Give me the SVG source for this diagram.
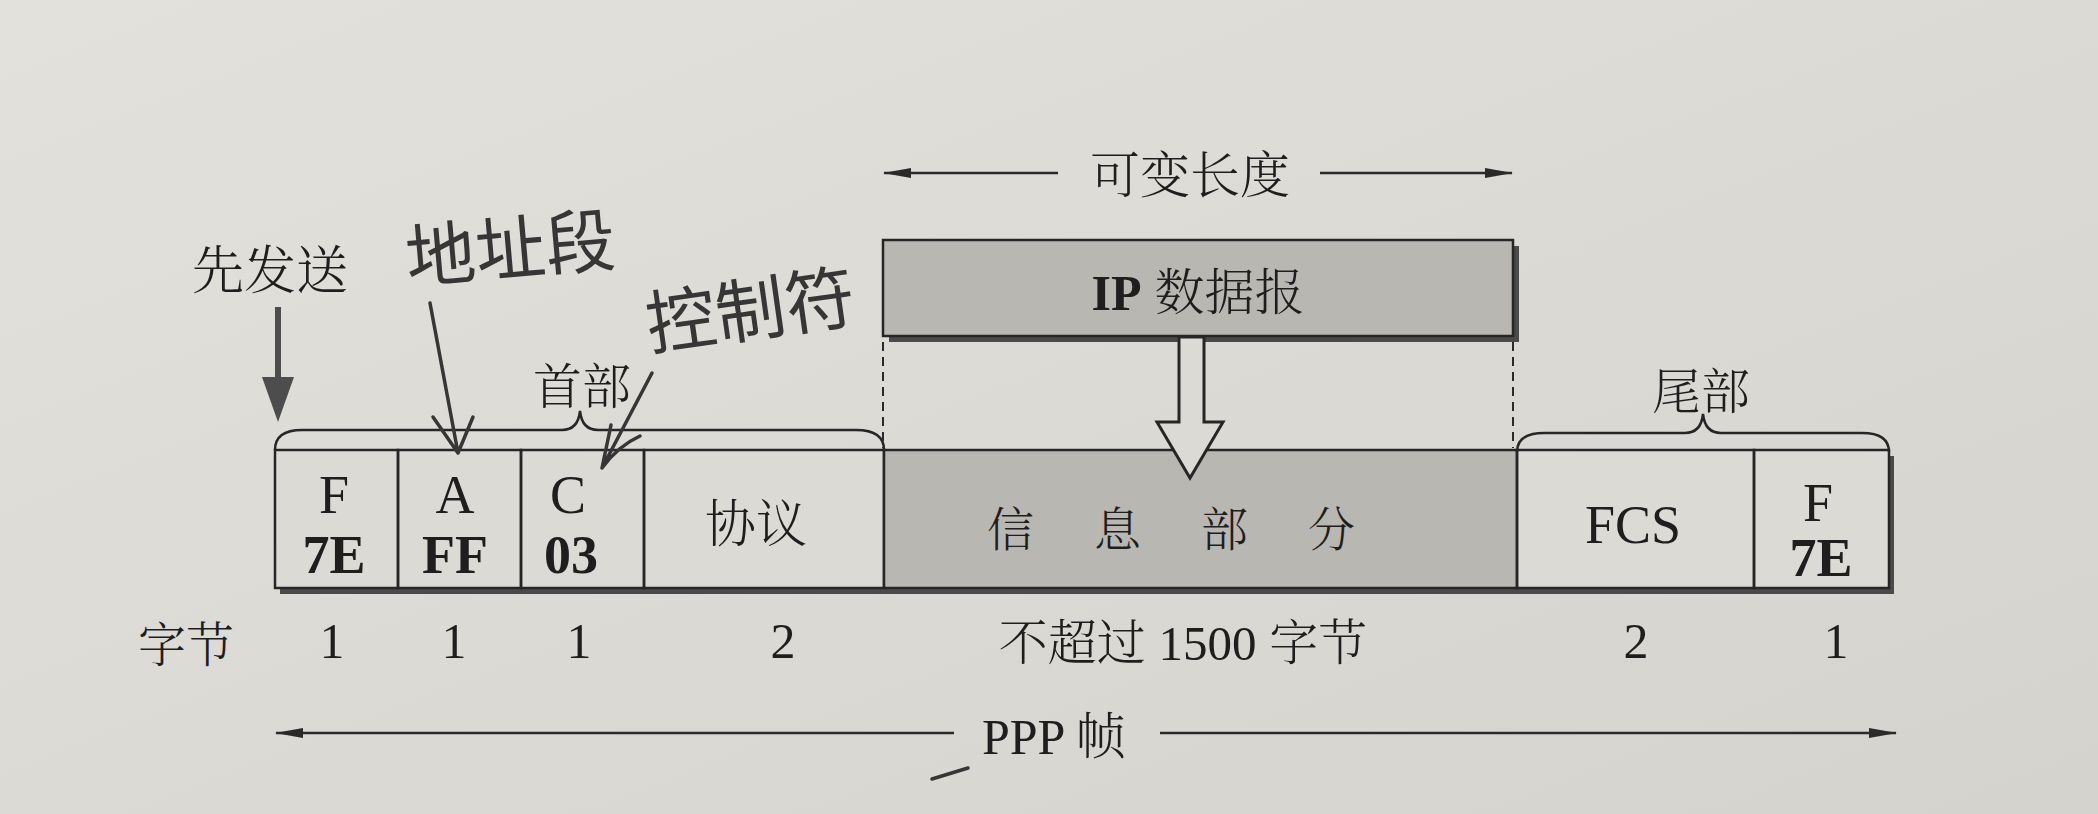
<svg xmlns="http://www.w3.org/2000/svg" width="2098" height="814" viewBox="0 0 2098 814">
<defs>
<linearGradient id="bg" x1="0" y1="0" x2="1" y2="1">
<stop offset="0" stop-color="#e3e1dc"/>
<stop offset="1" stop-color="#d5d3ce"/>
</linearGradient>
<marker id="ah" viewBox="0 0 28 12" refX="27" refY="6" markerWidth="28" markerHeight="12" markerUnits="userSpaceOnUse" orient="auto">
<path d="M0,1 L28,6 L0,11 Z" fill="#2a2a2a"/>
</marker>
<style>
.cell{fill:none;stroke:#262626;stroke-width:2.5}
.shade{fill:#b9b7b2;stroke:#262626;stroke-width:2.5}
.lat{font-family:"Liberation Serif","Times New Roman",serif;fill:#1e1e1e;text-anchor:middle}
.b{font-weight:bold}
.cjk{font-family:"Noto Serif CJK SC","Noto Sans CJK SC",sans-serif;fill:#1e1e1e;text-anchor:middle;font-weight:300}
.hand{font-family:"Noto Sans CJK SC",sans-serif;fill:#363636;font-weight:400}
.hl{fill:none;stroke:#363636;stroke-width:3.5;stroke-linecap:round;stroke-linejoin:round}
.line{fill:none;stroke:#2a2a2a;stroke-width:2.5}
.brace{fill:none;stroke:#262626;stroke-width:2.5}
.dash{fill:none;stroke:#2a2a2a;stroke-width:2;stroke-dasharray:9,6}
</style>
</defs>
<rect x="0" y="0" width="2098" height="814" fill="url(#bg)"/>

<!-- frame shadow -->
<rect x="280" y="456" width="1614" height="138" fill="#4a4a4a"/>
<rect x="275" y="450" width="1614" height="138" fill="#dcdad5"/>

<g id="cell-F1">
<rect class="cell" x="275" y="450" width="123" height="138"/>
<text class="lat" x="334" y="513" font-size="54">F</text>
<text class="lat b" x="334" y="573" font-size="54">7E</text>
</g>
<g id="cell-A">
<rect class="cell" x="398" y="450" width="123" height="138"/>
<text class="lat" x="455" y="513" font-size="54">A</text>
<text class="lat b" x="455" y="573" font-size="54">FF</text>
</g>
<g id="cell-C">
<rect class="cell" x="521" y="450" width="123" height="138"/>
<text class="lat" x="568" y="513" font-size="54">C</text>
<text class="lat b" x="571" y="573" font-size="54">03</text>
</g>
<g id="cell-protocol">
<rect class="cell" x="644" y="450" width="240" height="138"/>
<text class="cjk" x="756" y="542" font-size="51">协议</text>
</g>
<g id="cell-info">
<rect class="shade" x="884" y="450" width="633" height="138"/>
<text class="cjk" x="987" y="546" font-size="47" letter-spacing="60" style="text-anchor:start">信息部分</text>
</g>
<g id="cell-FCS">
<rect class="cell" x="1517" y="450" width="237" height="138"/>
<text class="lat" x="1633" y="543" font-size="54">FCS</text>
</g>
<g id="cell-F2">
<rect class="cell" x="1754" y="450" width="135" height="138"/>
<text class="lat" x="1818" y="521" font-size="54">F</text>
<text class="lat b" x="1821" y="576" font-size="54">7E</text>
</g>

<g id="ip-datagram">
<rect x="889" y="246" width="630" height="96" fill="#4a4a4a"/>
<rect class="shade" x="883" y="240" width="630" height="96"/>
<text class="lat" x="1198" y="310" font-size="50"><tspan class="b">IP</tspan><tspan font-family="Noto Serif CJK SC, Noto Sans CJK SC, sans-serif" font-weight="300"> 数据报</tspan></text>
</g>

<g id="variable-length">
<text class="cjk" x="1190" y="193" font-size="50">可变长度</text>
</g>

<g id="header-brace">
<path class="brace" d="M275,450 Q275,430 302,430 L562,430 Q578,430 580,411 Q582,430 598,430 L856,430 Q884,430 884,450"/>
<text class="cjk" x="582" y="404" font-size="49">首部</text>
</g>
<g id="tail-brace">
<path class="brace" d="M1517,452 Q1517,433 1544,433 L1685,433 Q1701,433 1703,414 Q1705,433 1721,433 L1862,433 Q1889,433 1889,452"/>
<text class="cjk" x="1701" y="409" font-size="49">尾部</text>
</g>

<g id="send-first">
<text class="cjk" x="270" y="289" font-size="52">先发送</text>
</g>

<g id="bytes-row">
<text class="cjk" x="186" y="662" font-size="48">字节</text>
<text class="lat" x="332" y="658" font-size="50">1</text>
<text class="lat" x="454" y="658" font-size="50">1</text>
<text class="lat" x="579" y="658" font-size="50">1</text>
<text class="lat" x="783" y="658" font-size="50">2</text>
<text class="cjk" x="1183" y="660" font-size="49">不超过 <tspan font-family="Liberation Serif, serif" font-weight="normal">1500</tspan> 字节</text>
<text class="lat" x="1636" y="658" font-size="50">2</text>
<text class="lat" x="1836" y="658" font-size="50">1</text>
</g>

<g id="ppp-frame">
<text class="lat" x="1054" y="754" font-size="50">PPP <tspan font-family="Noto Serif CJK SC, Noto Sans CJK SC, sans-serif" font-weight="300">帧</tspan></text>
</g>

<g id="note-address">
<text class="hand" x="408" y="283" font-size="70" transform="rotate(-5 408 283)">地址段</text>
</g>
<g id="note-control">
<text class="hand" x="650" y="350" font-size="70" transform="rotate(-8 650 350)">控制符</text>
</g>

<g id="connectors">
<line class="line" x1="1058" y1="173" x2="884" y2="173" marker-end="url(#ah)"/>
<line class="line" x1="1320" y1="173" x2="1512" y2="173" marker-end="url(#ah)"/>
<line class="line" x1="954" y1="733" x2="276" y2="733" marker-end="url(#ah)"/>
<line class="line" x1="1160" y1="733" x2="1896" y2="733" marker-end="url(#ah)"/>
<line class="dash" x1="883" y1="342" x2="883" y2="448"/>
<line class="dash" x1="1513" y1="342" x2="1513" y2="448"/>
<path d="M1179,337 L1204,337 L1204,422 L1223,422 L1190,478 L1157,422 L1179,422 Z" fill="#dcdad5" stroke="#262626" stroke-width="3" stroke-linejoin="miter"/>
<line x1="278" y1="307" x2="278" y2="380" stroke="#4d4d4d" stroke-width="6"/>
<path d="M262,377 L294,377 L278,422 Z" fill="#4d4d4d"/>
<path class="hl" d="M430,303 L458,453 M433,417 L458,453 L473,417"/>
<path class="hl" d="M652,373 L602,468 M611,425 L602,468 Q618,446 640,436"/>
<path class="hl" d="M932,779 L968,768"/>
</g>
</svg>
